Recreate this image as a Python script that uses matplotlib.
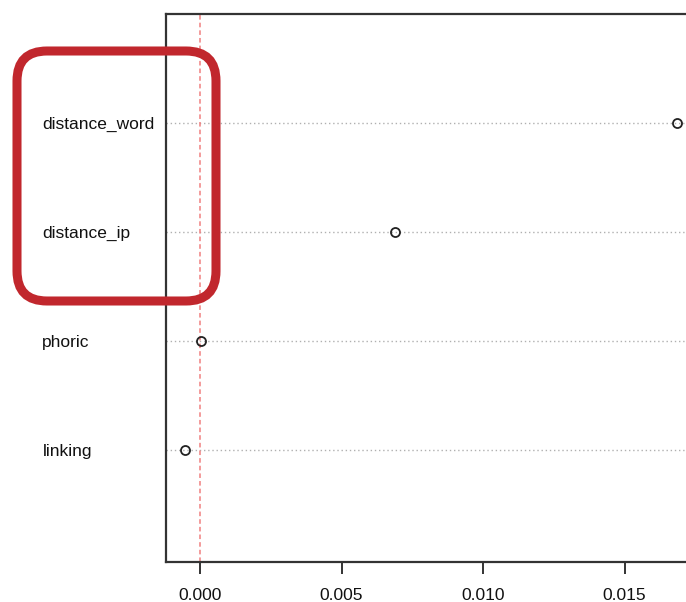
import matplotlib
matplotlib.use("Agg")
import matplotlib.pyplot as plt
from matplotlib.patches import FancyBboxPatch
from matplotlib.transforms import IdentityTransform

# variables, bottom to top as in the dotchart
labels = ["linking", "phoric", "distance_ip", "distance_word"]
values = [-0.00053, 0.00004, 0.00689, 0.01686]
rows = [1, 2, 3, 4]
xticks = [0.000, 0.005, 0.010, 0.015]

plt.rcParams['font.family'] = ['Liberation Sans', 'DejaVu Sans']

W, H = 686, 602
fig = plt.figure(figsize=(W / 100, H / 100), dpi=100)
ax = fig.add_axes([166 / W, 1 - 562 / H, 1 - 166 / W, (562 - 14) / H])

ax.grid(axis='y', linestyle=(0, (1, 2)), color='#b0b0b0', linewidth=1)
ax.set_axisbelow(True)
ax.axvline(0, color='#f08080', linestyle=(0, (3, 2)), linewidth=1.1, zorder=1)
ax.plot(values, rows, 'o', markerfacecolor='none', markeredgecolor='#222222',
        markersize=6.5, markeredgewidth=1.3, zorder=3, clip_on=False)

ax.set_xlim(-0.0012, 0.01717)
ax.set_ylim(-0.03, 5.0)

ax.set_xticks(xticks)
ax.set_xticklabels([f"{t:.3f}" for t in xticks])
ax.set_yticks(rows)
ax.set_yticklabels(labels)
for lab in ax.get_yticklabels():
    lab.set_horizontalalignment('left')

ax.tick_params(axis='y', length=0, pad=89, labelsize=12.5, labelcolor='#111111')
ax.tick_params(axis='x', length=8.5, width=1.4, pad=10, labelsize=12.5,
               color='#333333', labelcolor='#111111')

for side in ['left', 'bottom', 'top']:
    ax.spines[side].set_color('#333333')
    ax.spines[side].set_linewidth(1.6)
ax.spines['right'].set_visible(False)

# red highlight box around the distance variables (pixel coordinates)
box = FancyBboxPatch((17, H - 301), 216 - 17, 301 - 51,
                     boxstyle="round,pad=0,rounding_size=30",
                     transform=IdentityTransform(), fill=False,
                     edgecolor='#c1272d', linewidth=6.5, zorder=10)
fig.add_artist(box)

fig.savefig("out.png", dpi=100)
